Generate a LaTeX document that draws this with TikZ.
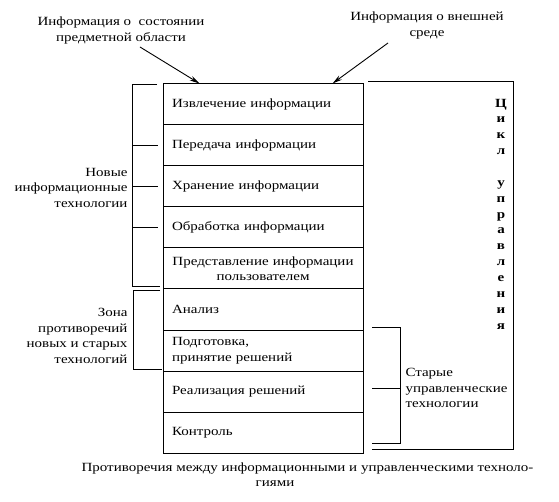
\documentclass[tikz,border=0pt]{standalone}
\usepackage{fontspec}
\setmainfont{Liberation Serif}[FakeStretch=1.2]
\usetikzlibrary{arrows.meta,calc}
\begin{document}
\begin{tikzpicture}[x=1pt,y=-1pt,line width=1pt,
  every node/.style={font=\fontsize{12.5}{15.5}\selectfont, inner sep=0pt},
  rowbox/.style={draw, minimum width=200pt, minimum height=41pt, text width=182pt, inner xsep=9pt, align=left},
  infoarrow/.style={-{Stealth[length=10pt,width=5pt]}, line width=0.9pt},
  bracket/.style={line width=1pt}]
\useasboundingbox (0,0) rectangle (559,502);

% main column
\node[rowbox] (r1) at (263,104.5) {Извлечение информации};
\node[rowbox] (r2) at (263,145.5) {Передача информации};
\node[rowbox] (r3) at (263,186.5) {Хранение информации};
\node[rowbox] (r4) at (263,227.5) {Обработка информации};
\node[rowbox, align=center] (r5) at (263,268.5) {Представление информации\\пользователем};
\node[rowbox] (r6) at (263,309.5) {Анализ};
\node[rowbox] (r7) at (263,350.5) {Подготовка,\\принятие решений};
\node[rowbox] (r8) at (263,391.5) {Реализация решений};
\node[rowbox] (r9) at (263,432.5) {Контроль};

% top labels and arrows
\node[align=center] (lab1) at (121,30.5) {Информация о~~состоянии\\предметной области};
\node[align=center] (lab2) at (427,25.5) {Информация о внешней\\среде};
\coordinate (a1s) at (140,47);
\coordinate (a2s) at (388,43);
\draw[infoarrow] (a1s) -- ($(r1.north west)+(37,0)$);
\draw[infoarrow] (a2s) -- ($(r1.north west)+(170,0)$);

% left bracket: new information technologies
\draw[bracket] (157,85) -- (132,85) -- (132,287) -- (160,287);
\draw[bracket] (132,146) -- (158,146);
\draw[bracket] (132,187) -- (158,187);
\draw[bracket] (132,228) -- (158,228);
\node[anchor=east, align=right] (newit) at (128,187.5) {Новые\\информационные\\технологии};

% left bracket: zone of contradictions
\draw[bracket] (160,291) -- (133,291) -- (133,369) -- (162,369);
\node[anchor=east, align=right] (zone) at (128,336) {Зона\\противоречий\\новых и старых\\технологий};

% right big bracket: management cycle
\draw[bracket] (368,82) -- (513,82) -- (513,449) -- (372,449);
\node[font=\bfseries\fontsize{12.5}{15.86}\selectfont, align=center] (cycle) at (501,214)
  {Ц\\и\\к\\л\\[15.86pt]у\\п\\р\\а\\в\\л\\е\\н\\и\\я};

% right inner bracket: old management technologies
\draw[bracket] (372,327) -- (400,327) -- (400,443) -- (372,443);
\draw[bracket] (372,388) -- (400,388);
\node[anchor=west, align=left] (old) at (405,388) {Старые\\управленческие\\технологии};

% caption
\node (cap1) at (307.5,469) {Противоречия между информационными и управленческими техноло-};
\node (cap2) at (275,484) {гиями};
\end{tikzpicture}
\end{document}
